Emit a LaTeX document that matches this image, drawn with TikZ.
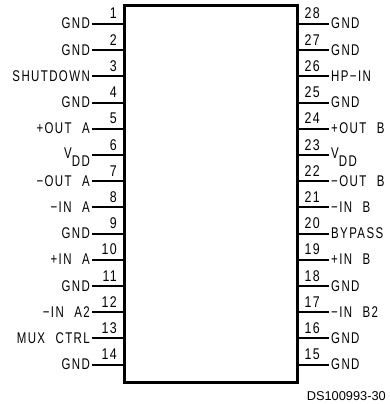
\documentclass[tikz,border=0pt]{standalone}
\usepackage{fontspec}
\setmainfont{Liberation Sans}
\newfontfamily\pinfont[FakeStretch=0.74,LetterSpace=9,WordSpace=2.3]{Liberation Sans}
\newfontfamily\numfont[FakeStretch=0.8,LetterSpace=9]{Liberation Sans}
\newcommand{\vddtext}{\raisebox{2pt}{V}\raisebox{-6pt}{DD}}
\begin{document}
\begin{tikzpicture}[x=1pt,y=-1pt,
  chip/.style={draw=black,line width=3pt,minimum width=173pt,minimum height=376pt,inner sep=0pt,outer sep=0pt},
  pinwire/.style={draw=black,line width=2pt},
  pinlabel/.style={font=\pinfont\fontsize{15.5}{15.5}\selectfont,inner sep=0pt,text height=10pt,text depth=0pt},
  pinnum/.style={font=\numfont\fontsize{15.5}{15.5}\selectfont,inner sep=0pt,text height=10pt,text depth=0pt},
  note/.style={font=\fontsize{12.8}{13}\selectfont,inner sep=0pt,anchor=east}]
\useasboundingbox (0,0) rectangle (390,404);
\node[chip] (ic) at (210.5,194) {};
\foreach \n/\t [count=\i from 0] in {1/GND,2/GND,3/SHUTDOWN,4/GND,5/+OUT A,6/{\vddtext},7/−OUT A,8/−IN A,9/GND,10/+IN A,11/GND,12/−IN A2,13/MUX CTRL,14/GND}{
  \pgfmathsetmacro\yy{24+26.2*\i}
  \coordinate (lo\n) at (92,\yy);
  \coordinate (li\n) at (124,\yy);
  \draw[pinwire] (lo\n) -- (li\n);
  \node[pinnum,anchor=base east] (ln\n) at (117,\yy-5) {\n};
  \node[pinlabel,anchor=base east] (lt\n) at (90,\yy+5) {\t};
}
\foreach \n/\t [count=\i from 0] in {28/GND,27/GND,26/HP−IN,25/GND,24/+OUT B,23/{\vddtext},22/−OUT B,21/−IN B,20/BYPASS,19/+IN B,18/GND,17/−IN B2,16/GND,15/GND}{
  \pgfmathsetmacro\yy{24+26.2*\i}
  \coordinate (ro\n) at (329,\yy);
  \coordinate (ri\n) at (297,\yy);
  \draw[pinwire] (ri\n) -- (ro\n);
  \node[pinnum,anchor=base west] (rn\n) at (304.5,\yy-5) {\n};
  \node[pinlabel,anchor=base west] (rt\n) at (331,\yy+5) {\t};
}
\node[note] (code) at (386,396) {DS100993-30};
\end{tikzpicture}
\end{document}
